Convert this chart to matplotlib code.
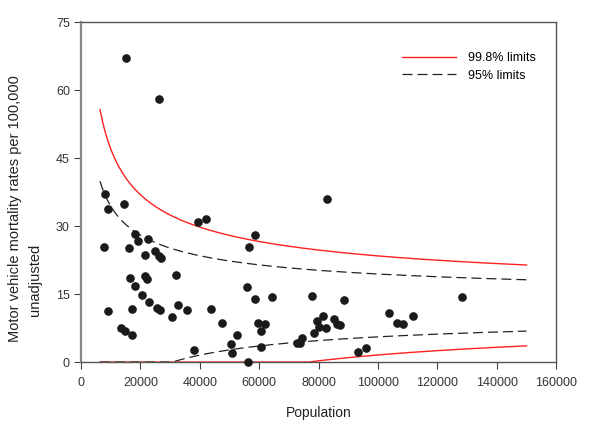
import numpy as np
import matplotlib
matplotlib.use("Agg")
import matplotlib.pyplot as plt

plt.rcParams["font.family"] = ["Liberation Sans", "DejaVu Sans"]

# county population and unadjusted motor vehicle mortality rate per 100,000
population = [
    15260, 26370, 8080, 9090, 14590, 39520, 42100, 58720, 7860, 18190,
    19200, 22680, 16280, 21560, 25030, 26150, 26830, 56590, 16620, 21560,
    22340, 18300, 32000, 20660, 23010, 25710, 26720, 17180, 8980, 32560,
    30760, 35810, 43900, 55800, 58720, 64440, 47380, 59620, 61860, 60520,
    60630, 13360, 14820, 17070, 52430, 50410, 50860, 38060, 56150, 82950,
    77800, 88690, 79380, 81510, 85110, 80050, 82630, 86220, 87230, 78590,
    74440, 72800, 73700, 93190, 95990, 103850, 106430, 108350, 111700, 128200,
]
rate = [
    67.1, 58.0, 37.1, 33.7, 34.9, 31.0, 31.6, 28.0, 25.4, 28.2,
    26.7, 27.1, 25.1, 23.7, 24.5, 23.5, 23.0, 25.4, 18.5, 19.1,
    18.4, 16.8, 19.2, 14.8, 13.2, 11.9, 11.5, 11.8, 11.3, 12.6,
    10.0, 11.4, 11.7, 16.5, 14.0, 14.3, 8.6, 8.6, 8.3, 6.8,
    3.3, 7.6, 6.9, 6.0, 5.9, 4.0, 2.1, 2.6, 0.1, 36.0,
    14.5, 13.8, 9.1, 10.1, 9.6, 7.8, 7.5, 8.3, 8.1, 6.5,
    5.4, 4.2, 4.3, 2.2, 3.1, 10.9, 8.7, 8.5, 10.1, 14.4,
]

# funnel limits: overall rate and z for each limit
mean_rate = 12.5
z_95 = 1.96
z_998 = 3.09
pop_min, pop_max = 6400, 150000

x_ticks = [0, 20000, 40000, 60000, 80000, 100000, 120000, 140000, 160000]
y_ticks = [0, 15, 30, 45, 60, 75]


def limits(n, z):
    se = np.sqrt(mean_rate * 1e5 / n)
    return mean_rate + z * se, np.clip(mean_rate - z * se, 0, None)


fig = plt.figure(figsize=(6, 4.25), dpi=100)
ax = fig.add_axes([0.135, 0.148, 0.792, 0.800])

n = np.linspace(pop_min, pop_max, 400)
up998, lo998 = limits(n, z_998)
up95, lo95 = limits(n, z_95)

ax.plot(n, up998, color="#ff2020", lw=1.0, label="99.8% limits")
ax.plot(n, lo998, color="#ff2020", lw=1.0, clip_on=False)
ax.plot(n, up95, color="#222222", lw=0.9, dashes=(8, 4), label="95% limits")
ax.plot(n, lo95, color="#222222", lw=0.9, dashes=(8, 4))

ax.scatter(population, rate, s=27, color="#1a1a1a", zorder=3, clip_on=False)

ax.set_xlim(0, 160000)
ax.set_ylim(0, 75)
ax.set_xticks(x_ticks)
ax.set_yticks(y_ticks)
ax.tick_params(direction="out", length=5, width=0.8, color="#444444",
               labelsize=9, labelcolor="#333333", pad=3)
ax.tick_params(axis="x", pad=6)
for side in ax.spines.values():
    side.set_color("#555555")
    side.set_linewidth(1.0)
ax.spines["left"].set_color("#888888")
ax.spines["left"].set_linewidth(1.6)

ax.set_xlabel("Population", fontsize=10, color="#222222", labelpad=12)
fig.text(0.025, 0.51, "Motor vehicle mortality rates per 100,000",
         rotation=90, fontsize=10.5, color="#222222", ha="center", va="center")
fig.text(0.058, 0.342, "unadjusted",
         rotation=90, fontsize=10.5, color="#222222", ha="center", va="center")

ax.legend(loc="upper left", bbox_to_anchor=(0.652, 0.945), frameon=False,
          fontsize=9, handlelength=4.3, handletextpad=1.0, labelspacing=0.45)

fig.savefig("out.png", dpi=100)
